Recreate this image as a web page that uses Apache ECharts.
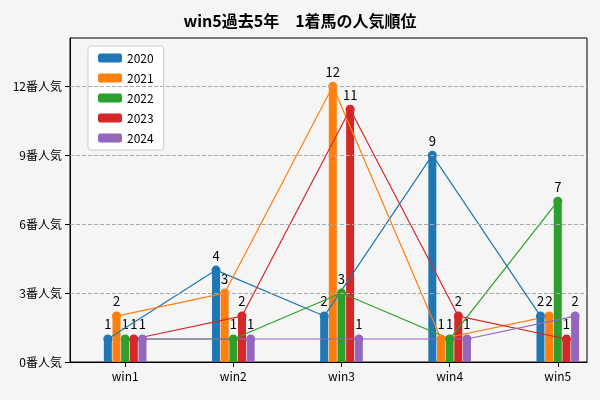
<!DOCTYPE html>
<html>
<head>
<meta charset="utf-8">
<script src="https://cdn.jsdelivr.net/npm/echarts@6/dist/echarts.min.js"></script>
<style>html,body{margin:0;background:#f5f5f5;}#main{width:600px;height:400px;}</style>
</head>
<body>
<div id="main"></div>
<script>
var categories = ['win1', 'win2', 'win3', 'win4', 'win5'];
var years = ['2020', '2021', '2022', '2023', '2024'];
var colors = ['#1f77b4', '#ff7f0e', '#2ca02c', '#d62728', '#9467bd'];
var v2020 = [1, 4, 2, 9, 2];
var v2021 = [2, 3, 12, 1, 2];
var v2022 = [1, 1, 3, 1, 7];
var v2023 = [1, 2, 11, 2, 1];
var v2024 = [1, 1, 1, 1, 2];
var yTicks = [0, 3, 6, 9, 12];

var values = [v2020, v2021, v2022, v2023, v2024];
var step = 0.08; // 各年の横ずれ
var font = '"Noto Sans CJK JP", sans-serif';

var series = [];
years.forEach(function(y, i) {
	var pts = values[i].map(function(v, c) { return [c + (i - 2) * step, v]; });
	series.push({
		name: y, type: 'bar', barWidth: 8, barGap: '-100%', data: pts, itemStyle: {color: colors[i]},
		label: {show: true, position: 'top', distance: 8, color: '#000', fontFamily: font, fontSize: 13,
			formatter: function(p) { return p.value[1]; }}
	});
	series.push({
		name: y, type: 'line', data: pts, symbol: 'circle', symbolSize: 9,
		itemStyle: {color: colors[i]}, lineStyle: {color: colors[i], width: 1.2}, z: 3
	});
});

var chart = echarts.init(document.getElementById('main'));
chart.setOption({
	backgroundColor: '#f5f5f5',
	animation: false,
	title: {text: 'win5過去5年　1着馬の人気順位', left: 'center', top: 8,
		textStyle: {fontFamily: font, fontSize: 16, fontWeight: 'bold', color: '#000'}},
	legend: {
		data: years, orient: 'vertical', left: 88, top: 46, itemWidth: 24, itemHeight: 9, itemGap: 8,
		backgroundColor: '#fff', borderColor: '#ccc', borderWidth: 1, borderRadius: 3, padding: [6, 10],
		textStyle: {fontFamily: font, fontSize: 12, color: '#000'}
	},
	grid: {left: 70, right: 13, top: 38, bottom: 38, show: true, borderColor: '#000', borderWidth: 1, backgroundColor: '#f5f5f5'},
	xAxis: {
		type: 'value', min: -0.51, max: 4.27,
		splitLine: {show: false},
		axisLine: {onZero: false, lineStyle: {color: '#000'}},
		axisTick: {customValues: [0, 1, 2, 3, 4], lineStyle: {color: '#000'}},
		axisLabel: {customValues: [0, 1, 2, 3, 4], color: '#000', fontFamily: font, fontSize: 12,
			formatter: function(v) { return categories[Math.round(v)]; }}
	},
	yAxis: {
		type: 'value', min: 0, max: 14.1,
		axisLine: {show: true, onZero: false, lineStyle: {color: '#000'}},
		axisTick: {show: true, customValues: yTicks, lineStyle: {color: '#000'}},
		axisLabel: {customValues: yTicks, color: '#000', fontFamily: font, fontSize: 12,
			formatter: function(v) { return v + '番人気'; }},
		splitLine: {show: false}
	},
	series: series.concat([{
		type: 'line', data: [], markLine: {silent: true, symbol: 'none', label: {show: false},
			lineStyle: {color: '#aaa', type: 'dashed', width: 1},
			data: yTicks.slice(1).map(function(t) { return {yAxis: t}; })}
	}])
});
</script>
</body>
</html>
